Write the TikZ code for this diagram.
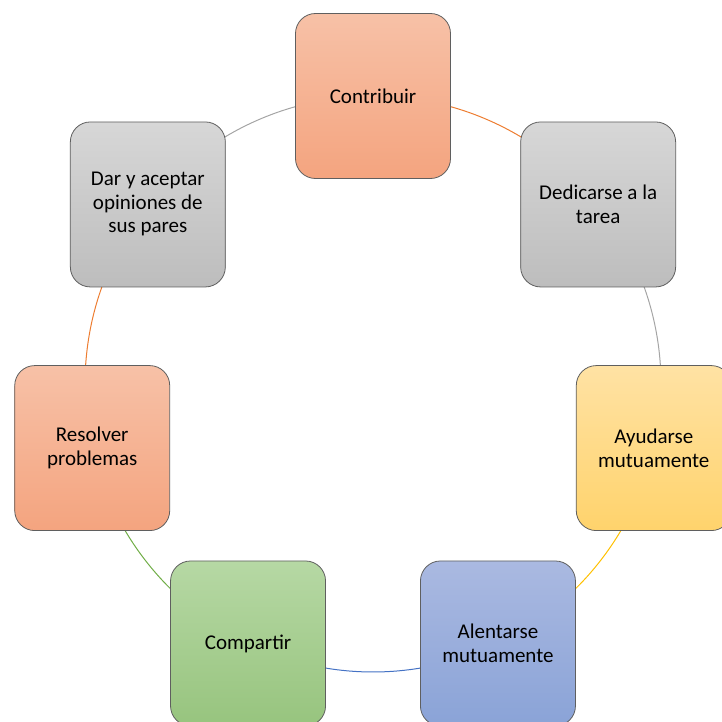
\documentclass[tikz,border=0pt]{standalone}
\usepackage{fontspec}
\setmainfont{Carlito}
\usetikzlibrary{backgrounds,calc}
\definecolor{arcorange}{HTML}{ED7D31}
\definecolor{arcgray}{HTML}{A5A5A5}
\definecolor{arcgold}{HTML}{FFC000}
\definecolor{arcblue}{HTML}{4472C4}
\definecolor{arcgreen}{HTML}{70AD47}
\definecolor{orT}{HTML}{F7C1A7}
\definecolor{orB}{HTML}{F4A47F}
\definecolor{grT}{HTML}{D7D7D7}
\definecolor{grB}{HTML}{BDBDBD}
\definecolor{yeT}{HTML}{FFE2A4}
\definecolor{yeB}{HTML}{FFD36C}
\definecolor{blT}{HTML}{AAB9E1}
\definecolor{blB}{HTML}{8AA3D7}
\definecolor{gnT}{HTML}{B6D8A4}
\definecolor{gnB}{HTML}{97C47E}
\definecolor{edge}{HTML}{5F5F5F}
\begin{document}
\begin{tikzpicture}[x=1pt,y=1pt,
  card/.style={draw=edge, line width=0.8pt, rounded corners=20pt,
    minimum width=155pt, minimum height=165pt, inner sep=0pt,
    align=center,
    font=\fontsize{21}{23.5}\selectfont, shading=axis, shading angle=0},
  ring/.style={line width=1pt}]
\useasboundingbox (0,0) rectangle (721,-722);
\def\R{288}
\coordinate (C) at (373,-384);
\node[card, top color=orT, bottom color=orB] (n1) at ($(C)+(90:\R)$) {Contribuir};
\node[card, top color=grT, bottom color=grB] (n2) at ($(C)+(38.571:\R)$) {Dedicarse a la\\tarea};
\node[card, top color=yeT, bottom color=yeB] (n3) at ($(C)+(-12.857:\R)$) {Ayudarse\\mutuamente};
\node[card, top color=blT, bottom color=blB] (n4) at ($(C)+(-64.286:\R)$) {Alentarse\\mutuamente};
\node[card, top color=gnT, bottom color=gnB] (n5) at ($(C)+(-115.714:\R)$) {Compartir};
\node[card, top color=orT, bottom color=orB] (n6) at ($(C)+(-167.143:\R)$) {Resolver\\problemas};
\node[card, top color=grT, bottom color=grB] (n7) at ($(C)+(141.429:\R)$) {Dar y aceptar\\opiniones de\\sus pares};
\begin{scope}[on background layer]
\draw[ring, arcorange] (n1.center) arc[start angle=90, end angle=38.571, radius=\R];
\draw[ring, arcgray] (n2.center) arc[start angle=38.571, end angle=-12.857, radius=\R];
\draw[ring, arcgold] (n3.center) arc[start angle=-12.857, end angle=-64.286, radius=\R];
\draw[ring, arcblue] (n4.center) arc[start angle=-64.286, end angle=-115.714, radius=\R];
\draw[ring, arcgreen] (n5.center) arc[start angle=-115.714, end angle=-167.143, radius=\R];
\draw[ring, arcorange] (n6.center) arc[start angle=-167.143, end angle=-218.571, radius=\R];
\draw[ring, arcgray] (n7.center) arc[start angle=141.429, end angle=90, radius=\R];
\end{scope}
\end{tikzpicture}
\end{document}
